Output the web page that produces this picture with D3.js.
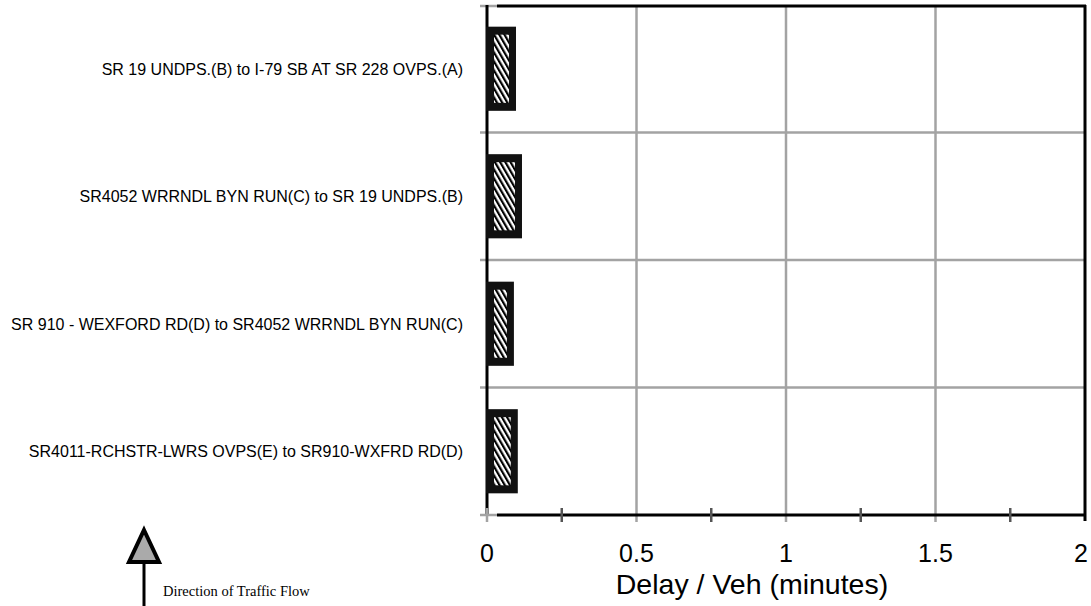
<!DOCTYPE html>
<html><head><meta charset="utf-8">
<script src="https://cdn.jsdelivr.net/npm/d3@7"></script>
<style>body{margin:0;background:#fff}svg{display:block}</style>
</head><body>
<svg id="c" width="1091" height="606"></svg>
<script>
const categories = [
  "SR 19 UNDPS.(B) to I-79 SB AT SR 228 OVPS.(A)",
  "SR4052 WRRNDL BYN RUN(C) to SR 19 UNDPS.(B)",
  "SR 910 - WEXFORD RD(D) to SR4052 WRRNDL BYN RUN(C)",
  "SR4011-RCHSTR-LWRS OVPS(E) to SR910-WXFRD RD(D)"
];
const delays = [0.097, 0.117, 0.090, 0.103];
const majorTicks = [0, 0.5, 1, 1.5, 2];
const minorTicks = [0.25, 0.75, 1.25, 1.75];
const tickLabels = ["0", "0.5", "1", "1.5", "2"];
const axisTitle = "Delay / Veh (minutes)";
const flowLabel = "Direction of Traffic Flow";

const svg = d3.select("#c");
const L = 487, R = 1085, T = 5, B = 515;
const x = d3.scaleLinear().domain([0, 2]).range([L, R]);
const y = d3.scaleBand().domain(categories).range([T, B]).paddingInner(0.34).paddingOuter(0.17);

const defs = svg.append("defs");
const pat = defs.append("pattern").attr("id", "hatch").attr("patternUnits", "userSpaceOnUse")
  .attr("width", 4.5).attr("height", 4.5).attr("patternTransform", "rotate(-30)");
pat.append("rect").attr("width", 4.5).attr("height", 4.5).attr("fill", "#fff");
pat.append("rect").attr("x", 0).attr("width", 2.2).attr("height", 4.5).attr("fill", "#000");

const grid = "#a3a3a3";
const step = y.step();
const hLines = categories.slice(1).map((c, i) => T + step * (i + 1));
svg.append("g").selectAll("line").data(hLines).join("line")
  .attr("x1", L - 7).attr("x2", R).attr("y1", d => d).attr("y2", d => d)
  .attr("stroke", grid).attr("stroke-width", 2.5);
svg.append("g").selectAll("line").data(majorTicks.slice(1, -1)).join("line")
  .attr("x1", d => x(d)).attr("x2", d => x(d)).attr("y1", T).attr("y2", B + 7)
  .attr("stroke", grid).attr("stroke-width", 2.5);

// frame
svg.append("line").attr("x1", L - 7).attr("x2", L + 10).attr("y1", T + 1).attr("y2", T + 1).attr("stroke", grid).attr("stroke-width", 2.5);
svg.append("line").attr("x1", L + 10).attr("x2", R + 1).attr("y1", T + 1).attr("y2", T + 1).attr("stroke", "#000").attr("stroke-width", 3);
svg.append("line").attr("x1", R).attr("x2", R).attr("y1", T).attr("y2", B + 6).attr("stroke", "#000").attr("stroke-width", 3);
svg.append("line").attr("x1", L).attr("x2", L).attr("y1", T).attr("y2", B).attr("stroke", "#000").attr("stroke-width", 3);

// bottom axis
const axis = svg.append("g");
axis.append("line").attr("x1", L - 7).attr("x2", L + 10).attr("y1", B).attr("y2", B).attr("stroke", grid).attr("stroke-width", 2.5);
axis.append("line").attr("x1", L + 10).attr("x2", R).attr("y1", B).attr("y2", B).attr("stroke", "#000").attr("stroke-width", 3);
axis.append("line").attr("x1", L).attr("x2", L).attr("y1", B - 7).attr("y2", B + 7).attr("stroke", grid).attr("stroke-width", 2.5);
axis.selectAll(".mn").data(minorTicks).join("line").attr("class", "mn")
  .attr("x1", d => x(d)).attr("x2", d => x(d)).attr("y1", B - 7).attr("y2", B + 7)
  .attr("stroke", "#555").attr("stroke-width", 2.5);
axis.selectAll("text").data(majorTicks).join("text")
  .attr("x", (d, i) => i === majorTicks.length - 1 ? x(d) - 4 : x(d)).attr("y", 562)
  .attr("text-anchor", "middle").attr("font-family", "Liberation Sans, Arial, sans-serif")
  .attr("font-size", 25).attr("fill", "#000").text((d, i) => tickLabels[i]);
svg.append("text").attr("x", 752).attr("y", 594).attr("text-anchor", "middle")
  .attr("font-family", "Liberation Sans, Arial, sans-serif").attr("font-size", 28.5).text(axisTitle);

// bars
const bars = svg.append("g").selectAll("g").data(categories).join("g");
bars.append("rect").attr("x", x(0) - 1).attr("y", d => y(d))
  .attr("width", (d, i) => x(delays[i]) - x(0) + 1).attr("height", y.bandwidth())
  .attr("fill", "#111");
bars.append("rect").attr("x", x(0) + 7).attr("y", d => y(d) + 8)
  .attr("width", (d, i) => x(delays[i]) - x(0) - 14).attr("height", y.bandwidth() - 16)
  .attr("fill", "url(#hatch)");

// category labels
svg.append("g").selectAll("text").data(categories).join("text")
  .attr("x", 463).attr("y", d => y(d) + y.bandwidth() / 2 + 6)
  .attr("text-anchor", "end").attr("font-family", "Liberation Sans, Arial, sans-serif")
  .attr("font-size", 16).attr("fill", "#000").text(d => d);

// traffic flow arrow
const arr = svg.append("g");
arr.append("line").attr("x1", 144).attr("x2", 144).attr("y1", 562).attr("y2", 606).attr("stroke", "#000").attr("stroke-width", 3);
arr.append("path").attr("d", "M144,530 L159,562 L129,562 Z").attr("fill", "#aaa").attr("stroke", "#000").attr("stroke-width", 4).attr("stroke-linejoin", "miter");
arr.append("text").attr("x", 163).attr("y", 596).attr("font-family", "Liberation Serif, Times New Roman, serif")
  .attr("font-size", 14.5).text(flowLabel);
</script>
</body></html>
